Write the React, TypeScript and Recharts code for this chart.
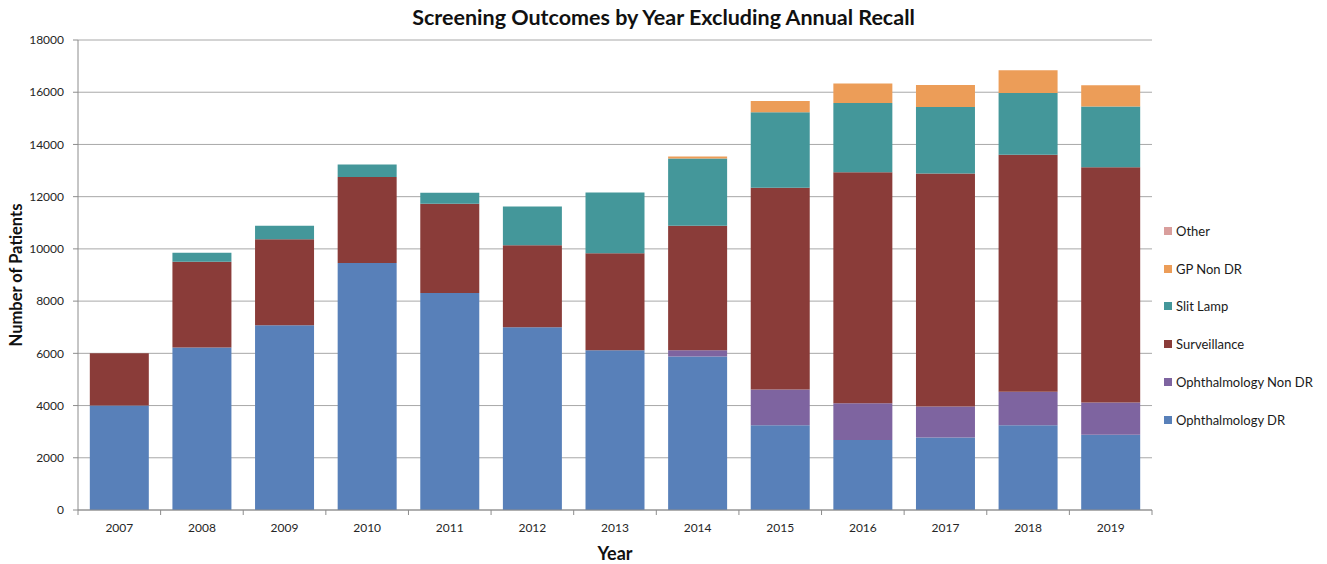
import { Bar, BarChart, CartesianGrid, Legend, XAxis, YAxis } from 'recharts'

const years = ['2007', '2008', '2009', '2010', '2011', '2012', '2013', '2014', '2015', '2016', '2017', '2018', '2019']
const ophthalmologyDR = [4000, 6220, 7075, 9460, 8310, 7000, 6120, 5880, 3250, 2680, 2780, 3250, 2880]
const ophthalmologyNonDR = [0, 0, 0, 0, 0, 0, 0, 240, 1365, 1410, 1185, 1275, 1240]
const surveillance = [2000, 3290, 3290, 3290, 3420, 3135, 3710, 4770, 7725, 8845, 8920, 9080, 9010]
const slitLamp = [0, 345, 525, 485, 420, 1490, 2330, 2570, 2890, 2655, 2550, 2370, 2320]
const gpNonDR = [0, 0, 0, 0, 0, 0, 0, 80, 435, 740, 840, 865, 815]
const other = [0, 0, 0, 0, 0, 0, 0, 0, 0, 0, 0, 0, 0]
const yTicks = [0, 2000, 4000, 6000, 8000, 10000, 12000, 14000, 16000, 18000]

const series = [
  { key: 'ophDR', name: 'Ophthalmology DR', values: ophthalmologyDR, color: '#5880B9' },
  { key: 'ophNonDR', name: 'Ophthalmology Non DR', values: ophthalmologyNonDR, color: '#7E64A0' },
  { key: 'surv', name: 'Surveillance', values: surveillance, color: '#8A3C39' },
  { key: 'slit', name: 'Slit Lamp', values: slitLamp, color: '#44979A' },
  { key: 'gp', name: 'GP Non DR', values: gpNonDR, color: '#EC9D58' },
  { key: 'other', name: 'Other', values: other, color: '#D99E9C' },
]

const rows = years.map((year, i) => {
  const row: Record<string, string | number> = { year }
  series.forEach(s => { row[s.key] = s.values[i] })
  return row
})

const W = 1311
const H = 556
const plotLeft = 70
const plotRight = 1144
const band = (plotRight - plotLeft) / years.length
const tickGap = 13

function YearTick(props: any) {
  const { x, y, payload, index } = props
  const axisY = y - tickGap
  const left = x - band / 2
  return (
    <g>
      <line x1={left} x2={left} y1={axisY} y2={axisY + 5} stroke="#8c8c8c" />
      {index === years.length - 1 && <line x1={x + band / 2} x2={x + band / 2} y1={axisY} y2={axisY + 5} stroke="#8c8c8c" />}
      <text x={x} y={y} dy="0.71em" textAnchor="middle" fontSize={12} fill="#262626">{payload.value}</text>
    </g>
  )
}

function LegendList() {
  const items = [...series].reverse()
  return (
    <div>
      {items.map(s => (
        <div key={s.key} style={{ height: 37.8, display: 'flex', alignItems: 'center', fontSize: 13, color: '#1a1a1a' }}>
          <span style={{ width: 8, height: 8, background: s.color, marginRight: 4, display: 'inline-block' }} />
          {s.name}
        </div>
      ))}
    </div>
  )
}

export default function App() {
  return (
    <div style={{ position: 'relative', width: W, height: H, fontFamily: 'Lato, sans-serif' }}>
      <div style={{ position: 'absolute', top: 0, left: 0, width: 1327 - 16, textAlign: 'center', fontSize: 21.5, fontWeight: 700, lineHeight: '18px', color: '#111' }}>
        Screening Outcomes by Year Excluding Annual Recall
      </div>
      <div style={{ position: 'absolute', left: 8, top: 267, transform: 'translate(-50%, -50%) rotate(-90deg)', whiteSpace: 'nowrap', fontSize: 16.5, fontWeight: 700, color: '#111' }}>
        Number of Patients
      </div>
      <div style={{ position: 'absolute', left: 607, top: 545, transform: 'translate(-50%, -50%)', fontSize: 18, fontWeight: 700, color: '#111' }}>
        Year
      </div>
      <BarChart width={W} height={H} data={rows} margin={{ top: 32, right: W - plotRight, left: 0, bottom: 24 }} barCategoryGap="14.3%">
        <CartesianGrid vertical={false} stroke="#a8a8a8" />
        <XAxis dataKey="year" height={30} tickSize={0} tickMargin={tickGap} axisLine={{ stroke: '#8c8c8c' }} tickLine={false} tick={<YearTick />} interval={0} />
        <YAxis width={plotLeft} domain={[0, 18000]} ticks={yTicks} tickSize={5} tickMargin={9} axisLine={{ stroke: '#8c8c8c' }} tickLine={{ stroke: '#8c8c8c' }} tick={{ fontSize: 12, fill: '#262626' }} />
        <YAxis yAxisId="r" orientation="right" width={0} domain={[0, 18000]} tick={false} tickLine={false} axisLine={{ stroke: '#8c8c8c' }} />
        <Legend layout="vertical" align="center" verticalAlign="middle" content={<LegendList />} wrapperStyle={{ left: 1156, top: 204, width: 160 }} />
        {series.map(s => (
          <Bar key={s.key} dataKey={s.key} name={s.name} stackId="a" fill={s.color} isAnimationActive={false} />
        ))}
      </BarChart>
    </div>
  )
}
